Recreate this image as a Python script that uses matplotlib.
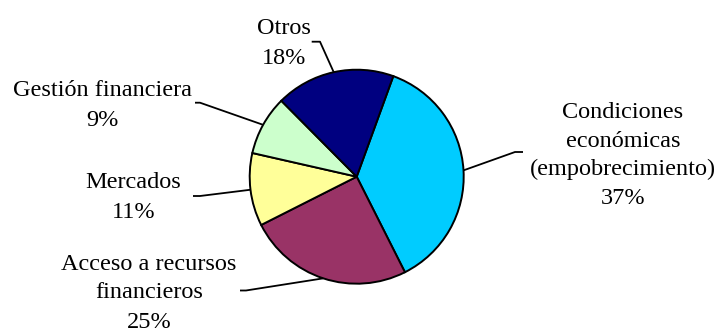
import matplotlib
matplotlib.use("Agg")
import numpy as np
import matplotlib.pyplot as plt

plt.rcParams['font.family'] = ['Liberation Serif', 'DejaVu Serif']

# Slice data, clockwise from the first wedge
categories = ['Condiciones\neconómicas\n(empobrecimiento)',
              'Acceso a recursos\nfinancieros',
              'Mercados',
              'Gestión financiera',
              'Otros']
shares = [37, 25, 11, 9, 18]
colors = ['#00CCFF', '#993366', '#FFFF99', '#CCFFCC', '#000080']

# label placement in pixel space: text centre x, first baseline y, line step
text_pos = [(623, 118.5, 28.5), (149, 269.5, 29), (133.5, 188, 30),
            (102.5, 95.5, 31), (284, 33.5, 31)]
# leader elbow and end point for each slice
elbows = [((515, 152), (523, 152)),
          ((246, 290.5), (240, 290.5)),
          ((200, 196), (193, 196)),
          ((200, 102.7), (195, 102.7)),
          ((320, 41.7), (311.7, 41.7))]

fig = plt.figure(figsize=(7.17, 3.31), dpi=100)
ax = fig.add_axes([0, 0, 1, 1])

wedges, _ = ax.pie(shares, colors=colors, center=(356.7, 176.7), radius=107,
                   startangle=-70, counterclock=True,
                   wedgeprops=dict(edgecolor='black', linewidth=1.4))

ax.set_xlim(0, 717)
ax.set_ylim(331, 0)
ax.set_aspect('equal')
ax.axis('off')

for w, cat, val, (tx, ty, step), (elb, end) in zip(wedges, categories, shares, text_pos, elbows):
    mid = np.deg2rad((w.theta1 + w.theta2) / 2)
    cx, cy = w.center
    ex, ey = cx + w.r * np.cos(mid), cy + w.r * np.sin(mid)
    ax.plot([ex, elb[0], end[0]], [ey, elb[1], end[1]], color='black', lw=1.3,
            solid_capstyle='butt')
    lines = cat.split('\n') + [f'{val}%']
    for i, s in enumerate(lines):
        ax.text(tx, ty + i * step, s, ha='center', va='baseline',
                fontsize=17.5, color='black')

fig.savefig('out.png', dpi=100)
